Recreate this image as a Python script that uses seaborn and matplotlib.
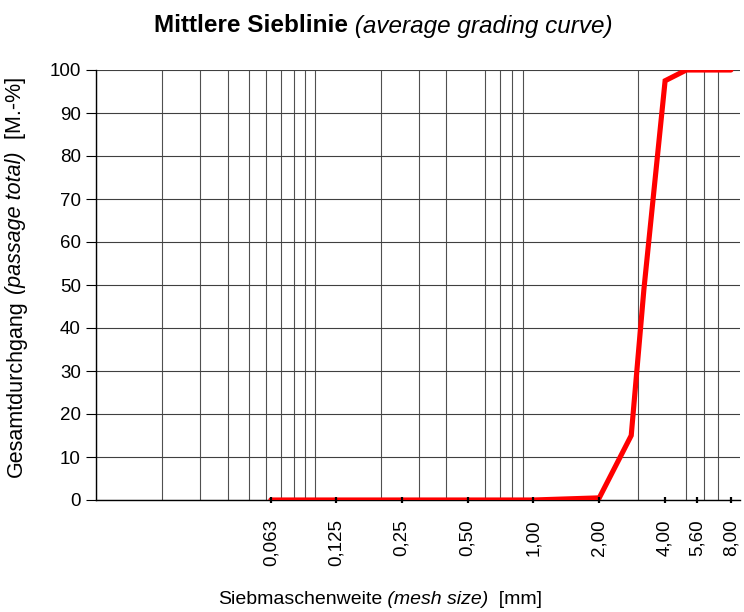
import numpy as np
import matplotlib
matplotlib.use("Agg")
import matplotlib.pyplot as plt
from matplotlib.ticker import FixedLocator, LogLocator, NullFormatter
import seaborn as sns

# mesh sizes [mm] and total passage [M.-%]
sizes = [0.063, 0.125, 0.25, 0.5, 1.0, 2.0, 2.8, 3.2, 4.0, 5.0, 5.6, 8.0]
passing = [0, 0, 0, 0, 0, 0.5, 15, 49, 97.5, 100, 100, 100]

tick_pos = [0.063, 0.125, 0.25, 0.5, 1.0, 2.0, 4.0, 5.6, 8.0]
tick_labels = ["0,063", "0,125", "0,25", "0,50", "1,00", "2,00", "4,00", "5,60", "8,00"]

W, H = 744, 612


def rich_text(fig, x, y, parts, size, vertical=False):
    # draw text pieces with different styles side by side, centred on (x, y) in pixels
    renderer = fig.canvas.get_renderer()
    texts = []
    lengths = []
    for s, style, weight in parts:
        t = fig.text(0, 0, s, fontsize=size, style=style, weight=weight, color="black",
                     rotation=90 if vertical else 0,
                     ha="center" if vertical else "left",
                     va="bottom" if vertical else "center")
        bb = t.get_window_extent(renderer)
        texts.append(t)
        lengths.append(bb.height if vertical else bb.width)
    pos = -sum(lengths) / 2
    for t, n in zip(texts, lengths):
        if vertical:
            t.set_position((x / W, (y + pos) / H))
        else:
            t.set_position(((x + pos) / W, y / H))
        pos += n


def main():
    sns.set_style("white")
    plt.rcParams["font.family"] = ["Liberation Sans", "DejaVu Sans"]
    plt.rcParams["text.color"] = "black"
    plt.rcParams["xtick.color"] = "black"
    plt.rcParams["ytick.color"] = "black"

    fig = plt.figure(figsize=(W / 100, H / 100), dpi=100)
    rect = [96 / W, 1 - 500 / H, (740 - 96) / W, (500 - 70) / H]
    ax = fig.add_axes(rect)

    sns.lineplot(x=sizes, y=passing, ax=ax, color="#ff0000", linewidth=3.7,
                 solid_joinstyle="miter", zorder=5)

    ax.set_xscale("log")
    ax.set_xlim(0.01, 8.8)
    ax.set_ylim(0, 100)

    ax.xaxis.set_major_locator(FixedLocator(tick_pos))
    ax.set_xticklabels(tick_labels, rotation=90, fontsize=13.5)
    ax.xaxis.set_minor_locator(LogLocator(base=10, subs=np.arange(1, 10), numticks=20))
    ax.xaxis.set_minor_formatter(NullFormatter())
    ax.tick_params(axis="x", which="major", length=0, pad=14, labelcolor="black")
    ax.tick_params(axis="x", which="minor", length=0)

    ax.set_yticks(np.arange(0, 101, 10))
    ax.tick_params(axis="y", direction="out", length=7, width=0.8, color="black",
                   labelsize=13.5, labelcolor="black", pad=4, left=True)

    ax.grid(False)
    ax.grid(True, axis="x", which="minor", color="#505050", linewidth=0.8)
    ax.grid(True, axis="y", which="major", color="#404040", linewidth=0.8)

    for s in ["top", "right"]:
        ax.spines[s].set_visible(False)
    for s in ["left", "bottom"]:
        ax.spines[s].set_color("black")
        ax.spines[s].set_linewidth(1.0)

    # transparent overlay carrying the "+" ticks above the red curve
    ax2 = fig.add_axes(rect, sharex=ax, sharey=ax)
    ax2.patch.set_visible(False)
    for s in ax2.spines.values():
        s.set_visible(False)
    ax2.grid(False)
    ax2.tick_params(axis="x", which="major", direction="inout", length=5, width=1.6,
                    color="black", labelbottom=False, bottom=True)
    ax2.tick_params(axis="x", which="minor", length=0)
    ax2.tick_params(axis="y", left=False, labelleft=False)

    rich_text(fig, 383, H - 26,
              [("Mittlere Sieblinie", "normal", "bold"),
               (" (average grading curve)", "italic", "normal")], 17.5)
    rich_text(fig, 380, H - 600,
              [("Siebmaschenweite", "normal", "normal"),
               (" (mesh size)", "italic", "normal"),
               ("  [mm]", "normal", "normal")], 14)
    rich_text(fig, 16, H - 277,
              [("Gesamtdurchgang", "normal", "normal"),
               (" (passage total)", "italic", "normal"),
               ("  [M.-%]", "normal", "normal")], 15.5, vertical=True)

    fig.savefig("out.png", dpi=100)


if __name__ == "__main__":
    main()
